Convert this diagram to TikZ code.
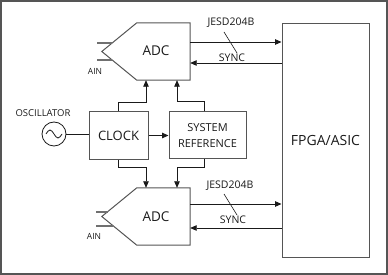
\documentclass[tikz,border=0pt]{standalone}
\usepackage{fontspec}
\setmainfont{Open Sans}
\usetikzlibrary{arrows.meta,positioning,calc}
\definecolor{ink}{HTML}{1A1A1A}
\definecolor{frame}{HTML}{555555}
\definecolor{stub}{HTML}{707070}

\begin{document}
\begin{tikzpicture}[x=1pt,y=-1pt,>={Triangle[length=6.5pt,width=5.5pt]},
  block/.style={draw=frame,line width=1pt,inner sep=0pt,align=center,text=ink},
  body/.style={inner sep=0pt,minimum width=53pt,minimum height=57pt},
  sigline/.style={->,line width=.8pt,draw=ink},
  plainline/.style={line width=.8pt,draw=ink},
  stubline/.style={line width=1.1pt,draw=stub},
  tag/.style={inner sep=1pt,text=ink,font=\fontsize{10.5}{12}\selectfont},
  tinytag/.style={inner sep=1pt,text=ink,font=\fontsize{8.5}{10}\selectfont}]
  \useasboundingbox (0,0) rectangle (388,275);
  \draw[frame,line width=1.2pt] (1,1) rectangle (387,274);
  % converters
  \node[body] (adcA) at (163.5,51.5) {};
  \node[body] (adcB) at (163.5,216.5) {};
  \foreach \a in {adcA,adcB}
    \draw[block] (\a.north west) -- (\a.north east) -- (\a.south east) -- (\a.south west) -- ($(\a.west)+(-35,0)$) -- cycle;
  \node[text=ink,font=\fontsize{13.5}{15}\selectfont] (adcAtxt) at (156,51) {ADC};
  \node[text=ink,font=\fontsize{13.5}{15}\selectfont] (adcBtxt) at (156,217) {ADC};
  \draw[stubline] (97,43) -- (112,43) (97,60) -- (112,60);
  \draw[stubline] (96,212) -- (108,212) (96,226) -- (113,226);
  \node[tinytag] (ainA) at (95,71) {AIN};
  \node[tinytag] (ainB) at (94,236) {AIN};
  % logic device
  \node[block,minimum width=87pt,minimum height=233pt,font=\fontsize{14}{16}\selectfont] (fpga) at (325.5,140.5) {FPGA/ASIC};
  % clocking
  \node[block,minimum width=59pt,minimum height=48pt,font=\fontsize{13}{15}\selectfont] (clock) at (118.5,135.5) {CLOCK};
  \node[block,minimum width=77pt,minimum height=47pt,font=\fontsize{11}{16}\selectfont] (sysref) at (207.5,135.5) {SYSTEM\\REFERENCE};
  \node[draw=ink,line width=.8pt,circle,minimum size=24pt] (osc) at (54,134) {};
  \draw[plainline] (osc.center) ++(-8,0) sin ++(4,-4) cos ++(4,4) sin ++(4,4) cos ++(4,-4);
  \node[tag,font=\fontsize{9.5}{11}\selectfont] (osclbl) at (43,113) {OSCILLATOR};
  \draw[plainline] (osc.east) -- (osc.east -| clock.west);
  \draw[sigline] (clock.east) -- (sysref.west);
  \draw[sigline] (clock.north) -- ++(0,-9) -| ([xshift=-17.5pt]adcA.south);
  \draw[sigline] ([xshift=-3.5pt]sysref.north) -- ++(0,-10) -| ([xshift=13.5pt]adcA.south);
  \draw[sigline] (clock.south) -- ++(0,7.5) -| ([xshift=-17.5pt]adcB.north);
  \draw[sigline] ([xshift=-3pt]sysref.south) -- ++(0,8) -| ([xshift=13.5pt]adcB.north);
  % serial links
  \draw[sigline] ([yshift=9.5pt]adcA.east) -- ([yshift=9.5pt]adcA.east -| fpga.west);
  \draw[sigline] ([yshift=-11.5pt]adcA.east -| fpga.west) -- ([yshift=-11.5pt]adcA.east);
  \draw[sigline] ([yshift=12.5pt]adcB.east) -- ([yshift=12.5pt]adcB.east -| fpga.west);
  \draw[sigline] ([yshift=-11.5pt]adcB.east -| fpga.west) -- ([yshift=-11.5pt]adcB.east);
  \node[tag] (jesdA) at (231,23) {JESD204B};
  \node[tag] (syncA) at (232,58) {SYNC};
  \node[tag] (jesdB) at (230,186) {JESD204B};
  \node[tag] (syncB) at (233,220) {SYNC};
  \draw[plainline,line width=.6pt] (224,32) -- (237,53);
  \draw[plainline,line width=.6pt] (224,194) -- (237,215);
\end{tikzpicture}
\end{document}
